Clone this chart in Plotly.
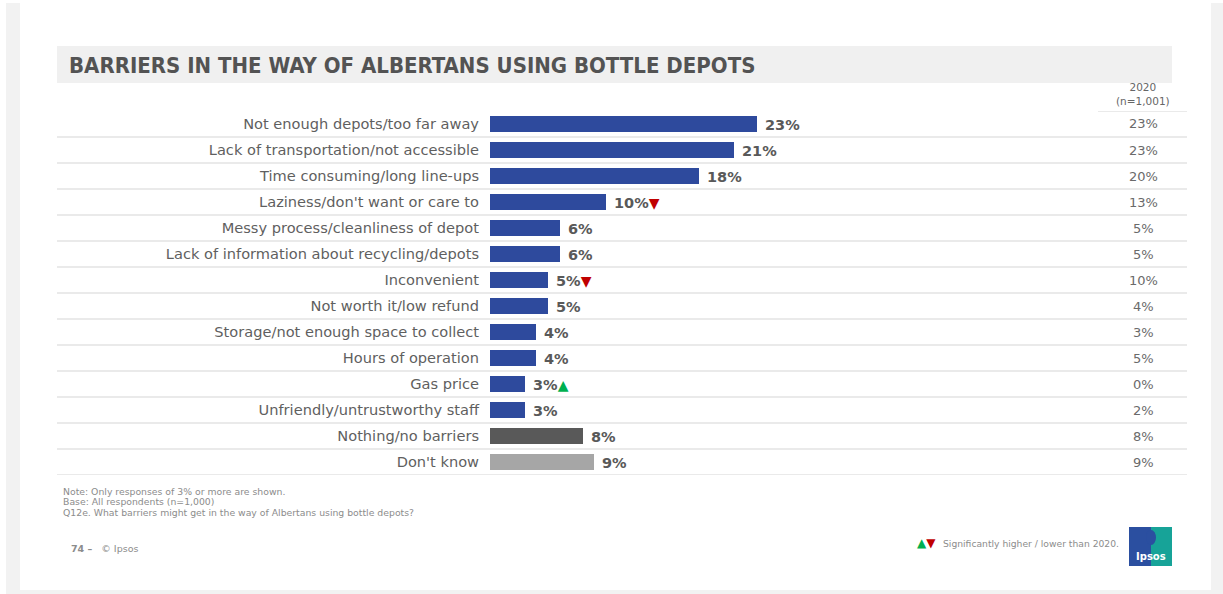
import plotly.graph_objects as go

W, H = 1223, 594

categories = [
    "Not enough depots/too far away",
    "Lack of transportation/not accessible",
    "Time consuming/long line-ups",
    "Laziness/don't want or care to",
    "Messy process/cleanliness of depot",
    "Lack of information about recycling/depots",
    "Inconvenient",
    "Not worth it/low refund",
    "Storage/not enough space to collect",
    "Hours of operation",
    "Gas price",
    "Unfriendly/untrustworthy staff",
    "Nothing/no barriers",
    "Don't know",
]
values_2021 = [23, 21, 18, 10, 6, 6, 5, 5, 4, 4, 3, 3, 8, 9]
values_2020 = [23, 23, 20, 13, 5, 5, 10, 4, 3, 5, 0, 2, 8, 9]
# significance vs 2020: "up", "down" or ""
significance = ["", "", "", "down", "", "", "down", "", "", "", "up", "", "", ""]

BLUE = "#2E4A9D"
DARK = "#595959"
LIGHT = "#A6A6A6"
bar_colors = [BLUE] * 12 + [DARK, LIGHT]

TITLE = "BARRIERS IN THE WAY OF ALBERTANS USING BOTTLE DEPOTS"
NOTES = [
    "Note: Only responses of 3% or more are shown.",
    "Base: All respondents (n=1,000)",
    "Q12e. What barriers might get in the way of Albertans using bottle depots?",
]

def px(x):
    return x / W

def py(y):
    return 1 - y / H

# plot geometry (pixels)
X0, X1 = 490, 1080
PX_PER_PCT = 267 / 23
ROW_TOP, ROW_BOT = 111, 475

n = len(categories)
ys = list(range(n))

fig = go.Figure()
fig.add_trace(go.Bar(
    x=values_2021, y=ys, orientation="h",
    marker=dict(color=bar_colors, line=dict(width=0)),
    width=0.58, hoverinfo="skip",
))

shapes = []
annotations = []

# page frame
shapes.append(dict(type="rect", xref="paper", yref="paper", x0=px(6), x1=px(20), y0=py(3), y1=py(590),
                   fillcolor="#F2F2F2", line=dict(width=0), layer="below"))
shapes.append(dict(type="rect", xref="paper", yref="paper", x0=px(1211), x1=1, y0=py(3), y1=py(594),
                   fillcolor="#F2F2F2", line=dict(width=0), layer="below"))
shapes.append(dict(type="rect", xref="paper", yref="paper", x0=px(6), x1=1, y0=0, y1=py(590),
                   fillcolor="#F2F2F2", line=dict(width=0), layer="below"))

# title bar
shapes.append(dict(type="rect", xref="paper", yref="paper", x0=px(57), x1=px(1172), y0=py(83), y1=py(46),
                   fillcolor="#F0F0F0", line=dict(width=0), layer="below"))
annotations.append(dict(text=f"<b>{TITLE}</b>", xref="paper", yref="paper", x=px(67), y=py(65),
                        xanchor="left", yanchor="middle", showarrow=False,
                        font=dict(family="DejaVu Sans Condensed, Roboto Condensed, Roboto, sans-serif",
                                  size=22, color="#535353")))

# row separators
for i in range(n):
    shapes.append(dict(type="line", xref="paper", yref="y", x0=px(57), x1=px(1187), y0=i + 0.5, y1=i + 0.5,
                       line=dict(color="#E3E3E3", width=1.5), layer="below"))
shapes.append(dict(type="line", xref="paper", yref="y", x0=px(1098), x1=px(1187), y0=-0.5, y1=-0.5,
                   line=dict(color="#E3E3E3", width=1.5), layer="below"))

# 2020 column header
annotations.append(dict(text="2020<br>(n=1,001)", xref="paper", yref="paper", x=px(1143), y=py(94),
                        xanchor="center", yanchor="middle", showarrow=False,
                        font=dict(family="DejaVu Sans", size=10.5, color="#666666")))

# value labels, significance markers, 2020 column
for i, (v, v20, s) in enumerate(zip(values_2021, values_2020, significance)):
    mark = ""
    if s == "down":
        mark = "<span style='color:#C00000;font-size:14px'>▼</span>"
    elif s == "up":
        mark = "<span style='color:#00B050;font-size:14px'>▲</span>"
    annotations.append(dict(text=f"<b>{v}%</b>{mark}", x=v, y=i, xref="x", yref="y",
                            xanchor="left", yanchor="middle", xshift=6, yshift=-1, showarrow=False,
                            font=dict(family="DejaVu Sans", size=14.5, color="#595959")))
    annotations.append(dict(text=f"{v20}%", x=px(1143), y=i, xref="paper", yref="y",
                            xanchor="center", yanchor="middle", showarrow=False,
                            font=dict(family="DejaVu Sans", size=13, color="#6A6A6A")))

# footnotes
for k, line in enumerate(NOTES):
    annotations.append(dict(text=line, xref="paper", yref="paper", x=px(61), y=py(491 + 10.5 * k),
                            xanchor="left", yanchor="middle", showarrow=False,
                            font=dict(family="DejaVu Sans", size=9.3, color="#8C8C8C")))
annotations.append(dict(text="<b>74 –</b>   © Ipsos", xref="paper", yref="paper", x=px(69), y=py(548),
                        xanchor="left", yanchor="middle", showarrow=False,
                        font=dict(family="DejaVu Sans", size=9.5, color="#8C8C8C")))

# significance legend
annotations.append(dict(text="<span style='color:#00B050'>▲</span><span style='color:#C00000'>▼</span>",
                        xref="paper", yref="paper", x=px(915), y=py(543),
                        xanchor="left", yanchor="middle", showarrow=False,
                        font=dict(family="DejaVu Sans", size=12)))
annotations.append(dict(text="Significantly higher / lower than 2020.", xref="paper", yref="paper",
                        x=px(941), y=py(543), xanchor="left", yanchor="middle", showarrow=False,
                        font=dict(family="DejaVu Sans", size=9.2, color="#8C8C8C")))

# Ipsos logo
shapes.append(dict(type="rect", xref="paper", yref="paper", x0=px(1129), x1=px(1151), y0=py(566), y1=py(527),
                   fillcolor="#2B4FA0", line=dict(width=0)))
shapes.append(dict(type="rect", xref="paper", yref="paper", x0=px(1151), x1=px(1172), y0=py(566), y1=py(527),
                   fillcolor="#17A398", line=dict(width=0)))
shapes.append(dict(type="circle", xref="paper", yref="paper", x0=px(1146), x1=px(1156), y0=py(545), y1=py(530),
                   fillcolor="#2B4FA0", line=dict(width=0)))
annotations.append(dict(text="<b>Ipsos</b>", xref="paper", yref="paper", x=px(1150.5), y=py(556),
                        xanchor="center", yanchor="middle", showarrow=False,
                        font=dict(family="DejaVu Sans", size=10, color="white")))

fig.update_layout(
    width=W, height=H,
    margin=dict(l=0, r=0, t=0, b=0),
    paper_bgcolor="white", plot_bgcolor="rgba(0,0,0,0)",
    showlegend=False,
    bargap=0,
    xaxis=dict(domain=[px(X0), px(X1)], range=[0, (X1 - X0) / PX_PER_PCT],
               visible=False, fixedrange=True),
    yaxis=dict(domain=[py(ROW_BOT), py(ROW_TOP)], range=[n - 0.5, -0.5],
               tickmode="array", tickvals=ys, ticktext=categories,
               ticks="", showline=False, showgrid=False, zeroline=False,
               ticklabelstandoff=10,
               tickfont=dict(family="DejaVu Sans", size=14.6, color="#5F5F5F"),
               fixedrange=True),
    shapes=shapes,
    annotations=annotations,
)

fig.write_html("out.html")
